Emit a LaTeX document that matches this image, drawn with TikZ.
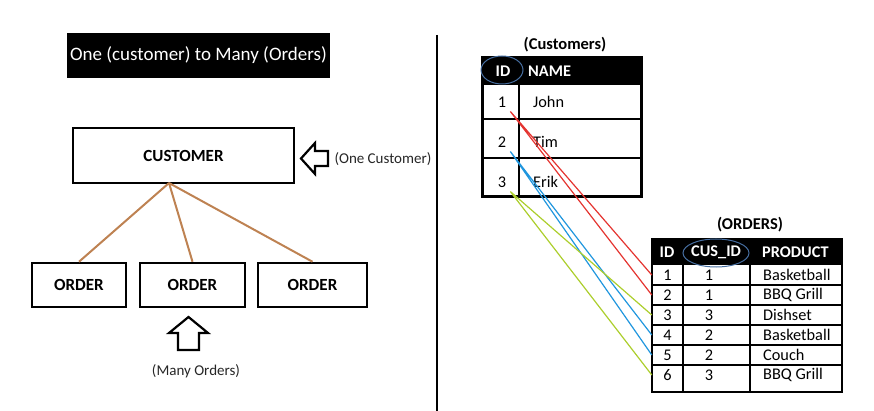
\documentclass[tikz,border=0pt]{standalone}
\usepackage{xcolor}
\usepackage{fontspec}
\setmainfont{Carlito}
\definecolor{linkred}{RGB}{228,52,48}
\definecolor{linkblue}{RGB}{32,150,222}
\definecolor{linkgreen}{RGB}{172,206,44}
\definecolor{stem}{RGB}{190,130,82}
\definecolor{ring}{RGB}{70,110,160}

\begin{document}
\begin{tikzpicture}[x=1pt, y=-1pt,
  box/.style={draw, line width=2.5pt, minimum height=44pt, inner sep=0pt, font=\fontsize{17}{19}\selectfont\bfseries},
  note/.style={font=\fontsize{15}{17}\selectfont, text=black!85},
  cell/.style={font=\fontsize{16.3}{18}\selectfont, inner sep=0pt},
  head/.style={font=\fontsize{16.3}{18}\selectfont\bfseries, text=white, inner sep=0pt},
  caption/.style={font=\fontsize{16.5}{18}\selectfont\bfseries},
  grid/.style={line width=2.2pt},
  hollow/.style={draw, line width=2.2pt, fill=white, line join=miter},
  link/.style={line width=1.2pt}]
\useasboundingbox (0,0) rectangle (874,411);
\def \rowh {20}

% left: one to many
\node[fill=black, text=white, minimum width=259pt, minimum height=45pt, font=\fontsize{19}{21}\selectfont] at (198.5,55.5) (title) {One (customer) to Many (Orders)};
\node[box, minimum width=221pt, minimum height=55pt] at (183.5,155.5) (cust) {CUSTOMER};
\node[box, minimum width=94pt] at (79,285) (ord1) {ORDER};
\node[box, minimum width=105pt] at (192.5,285) (ord2) {ORDER};
\node[box, minimum width=109pt] at (312.5,285) (ord3) {ORDER};
\coordinate (hub) at (169,183);
\foreach \o in {ord1,ord2,ord3}
  \draw[stem, line width=2pt] (hub) -- (\o.north);

\draw[hollow] (301,158.5) -- (315,143) -- (315,151) -- (328,151) -- (328,166) -- (315,166) -- (315,174) -- cycle;
\node[note, anchor=west] at (331,159) (one) {(One Customer)};
\draw[hollow] (188.5,317) -- (208,333) -- (199,333) -- (199,350) -- (178,350) -- (178,333) -- (169,333) -- cycle;
\node[note] at (196,371) (many) {(Many Orders)};

\draw[line width=2.5pt] (437,35) -- (437,411);

% customers table
\node[caption] at (565,45) (custcap) {(Customers)};
\fill (482,58) rectangle (641,85);
\draw[line width=3pt] (482,58) rectangle (641,197);
\draw[grid] (482,119) -- (641,119) (482,158) -- (641,158) (519,85) -- (519,197);
\node[head] at (503,71) (cidh) {ID};
\node[head, anchor=west] at (528,71) (cnameh) {NAME};
\draw[ring, line width=1pt] (502,70) ellipse [x radius=21, y radius=14];
\foreach \i/\n/\y in {1/John/102, 2/Tim/142, 3/Erik/182} {
  \node[cell, inner sep=4pt] at (502,\y) (c\i) {\i};
  \node[cell, anchor=west] at (533,\y) (cn\i) {\n};
}

% orders table
\node[caption] at (750,225) (ordcap) {(ORDERS)};
\fill (652,239) rectangle (842,265);
\draw[line width=2.5pt] (652,239) rectangle (842,392);
\foreach \k in {1,...,5}
  \draw[grid] (652,265+\k*\rowh) -- (842,265+\k*\rowh);
\draw[grid] (683,265) -- (683,392) (750,265) -- (750,392);
\node[head] at (667,252) (oidh) {ID};
\node[head] at (716,252) (ocush) {CUS\_ID};
\node[head, anchor=west] at (762,252) (oprodh) {PRODUCT};
\draw[ring, line width=1pt] (716,253) ellipse [x radius=33, y radius=14];
\foreach \i/\c/\p in {1/1/Basketball, 2/1/BBQ Grill, 3/3/Dishset, 4/2/Basketball, 5/2/Couch, 6/3/BBQ Grill} {
  \node[cell, minimum width=31pt, minimum height=\rowh pt] at (667.5,255+\i*\rowh) (o\i) {\i};
  \node[cell] at (709,255+\i*\rowh) (oc\i) {\c};
  \node[cell, anchor=west] at (763,255+\i*\rowh) (op\i) {\p};
}

\draw[link, linkred] (c1.south east) -- (o1.west) (c1.south east) -- (o2.west);
\draw[link, linkblue] (c2.south east) -- (o4.west) (c2.south east) -- (o5.west);
\draw[link, linkgreen] (c3.south east) -- (o3.west) (c3.south east) -- (o6.west);

\end{tikzpicture}
\end{document}
